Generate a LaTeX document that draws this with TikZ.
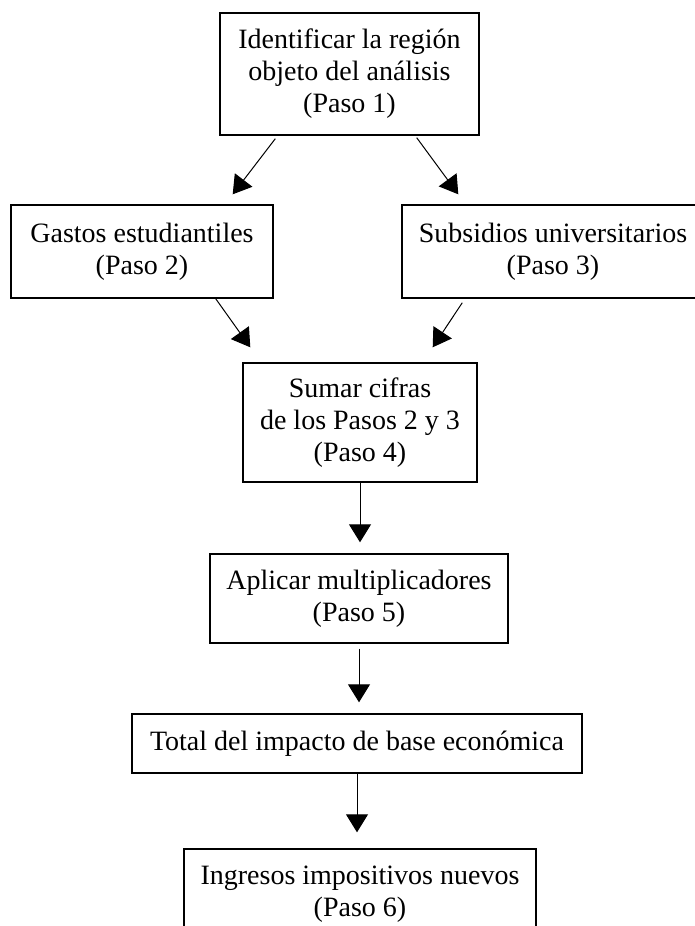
\documentclass[tikz,border=0pt]{standalone}
\usepackage{fontspec}
\setmainfont{Liberation Serif}
\usetikzlibrary{arrows.meta}

\begin{document}
\begin{tikzpicture}[x=1pt,y=-1pt,
paso/.style={draw,line width=1.4pt,align=center,inner sep=0pt,
font=\fontsize{28}{32}\selectfont},
flecha/.style={-{Triangle[length=18pt,width=22pt]},line width=1pt}]
\useasboundingbox (0,0) rectangle (695,926);
\clip (0,0) rectangle (695,926);
\node[paso,minimum width=259pt,minimum height=122pt] (p1) at (349.5,74)
{Identificar la región\\objeto del análisis\\(Paso 1)};
\node[paso,minimum width=262pt,minimum height=93pt] (p2) at (142,251.5)
{Gastos estudiantiles\\(Paso 2)};
\node[paso,minimum width=302pt,minimum height=93pt] (p3) at (553,251.5)
{Subsidios universitarios\\(Paso 3)};
\node[paso,minimum width=234pt,minimum height=119pt] (p4) at (360,422.5)
{Sumar cifras\\de los Pasos 2 y 3\\(Paso 4)};
\node[paso,minimum width=298pt,minimum height=89pt] (p5) at (359,598.5)
{Aplicar multiplicadores\\(Paso 5)};
\node[paso,minimum width=450pt,minimum height=59pt] (total) at (357,743.5)
{Total del impacto de base económica};
\node[paso,minimum width=352pt,minimum height=91pt] (p6) at (360,894.5)
{Ingresos impositivos nuevos\\(Paso 6)};
\path[flecha] ([xshift=56pt,yshift=-3pt]p1.south west) edge ([xshift=-41pt,yshift=10pt]p2.north east);
\path[flecha] ([xshift=-63pt,yshift=-2pt]p1.south east) edge ([xshift=57pt,yshift=10pt]p3.north west);
\path[flecha] ([xshift=-58pt]p2.south east) edge ([xshift=8pt,yshift=15pt]p4.north west);
\path[flecha] ([xshift=61pt,yshift=-4pt]p3.south west) edge ([xshift=-45pt,yshift=15pt]p4.north east);
\path[flecha,shorten >=11pt] (p4.south) edge (p4.south |- p5.north);
\path[flecha,shorten <=5pt,shorten >=11pt] (p5.south) edge (p5.south |- total.north);
\path[flecha,shorten >=16pt] (total.south) edge (total.south |- p6.north);
\end{tikzpicture}
\end{document}
